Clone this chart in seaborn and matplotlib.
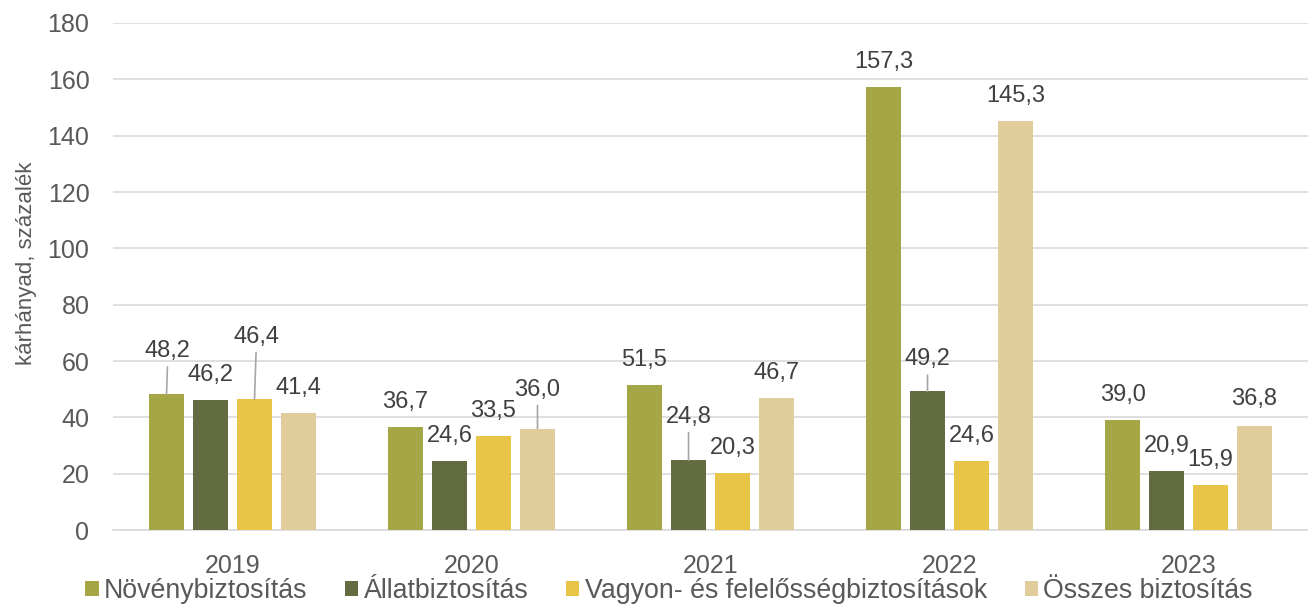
import numpy as np
import pandas as pd
import matplotlib
matplotlib.use("Agg")
import matplotlib.pyplot as plt
import seaborn as sns

# data
years = ["2019", "2020", "2021", "2022", "2023"]
series = ["Növénybiztosítás", "Állatbiztosítás",
          "Vagyon- és felelősségbiztosítások", "Összes biztosítás"]
noveny = [48.2, 36.7, 51.5, 157.3, 39.0]
allat = [46.2, 24.6, 24.8, 49.2, 20.9]
vagyon = [46.4, 33.5, 20.3, 24.6, 15.9]
osszes = [41.4, 36.0, 46.7, 145.3, 36.8]
yticks = list(range(0, 181, 20))

colors = ["#A5A646", "#636B41", "#E8C547", "#E1CD9B"]
text_col = "#404040"
tick_col = "#595959"
grid_col = "#D9D9D9"

df = pd.DataFrame({
    "year": years * 4,
    "series": np.repeat(series, len(years)),
    "value": noveny + allat + vagyon + osszes,
})

sns.set_style("white")
plt.rcParams["font.family"] = ["Liberation Sans", "DejaVu Sans"]

fig = plt.figure(figsize=(13.08, 6.10), dpi=100)
ax = fig.add_axes([0.0864, 0.1311, 0.9136, 0.8312])

sns.barplot(data=df, x="year", y="value", hue="series", hue_order=series,
            order=years, palette=colors, saturation=1, width=0.736, gap=0.2,
            linewidth=0, errorbar=None, ax=ax, zorder=3)

ax.set_ylim(0, 180)
ax.set_yticks(yticks)
ax.set_xlim(-0.5, 4.5)
ax.yaxis.grid(True, color=grid_col, lw=1.2, zorder=0)
ax.set_axisbelow(True)
for s in ["left", "right", "top"]:
    ax.spines[s].set_visible(False)
ax.spines["bottom"].set_color(grid_col)
ax.spines["bottom"].set_linewidth(1.2)
ax.tick_params(axis="y", length=0, pad=17, labelsize=18, labelcolor=tick_col)
ax.tick_params(axis="x", length=0, pad=17, labelsize=18, labelcolor=tick_col)
ax.set_xlabel("")
ax.set_ylabel("")
fig.text(27 / 1308, 1 - 263 / 610, "kárhányad, százalék", rotation=90,
         ha="center", va="center", fontsize=16, color=tick_col)

# manual label placement tweaks (series index, year index) -> (dx, dy, leader)
tweaks = {
    (0, 0): (1, 31, True),
    (2, 0): (1.5, 45, True),
    (3, 1): (0, 28, True),
    (1, 2): (0, 31, True),
    (1, 3): (0, 23, True),
    (3, 4): (0, 20, False),
}

for si, cont in enumerate(ax.containers):
    for yi, bar in enumerate(cont):
        x = bar.get_x() + bar.get_width() / 2
        h = bar.get_height()
        dx, dy, leader = tweaks.get((si, yi), (0, 18, False))
        label = f"{h:.1f}".replace(".", ",")
        arrow = dict(arrowstyle="-", color="#A6A6A6", lw=1.2,
                     shrinkA=1, shrinkB=0) if leader else None
        ax.annotate(label, xy=(x, h), xytext=(dx, dy), textcoords="offset points",
                    ha="center", va="center", fontsize=17, color=text_col,
                    arrowprops=arrow, zorder=4)

handles, labels = ax.get_legend_handles_labels()
ax.legend_.remove()
fig.legend(handles, labels, loc="center", bbox_to_anchor=(0.5115, 0.031),
           ncol=4, frameon=False, fontsize=19.3, labelcolor=tick_col,
           handlelength=0.5, handleheight=0.5, handletextpad=0.2,
           columnspacing=1.4, borderaxespad=0)

fig.savefig("out.png", dpi=100)
